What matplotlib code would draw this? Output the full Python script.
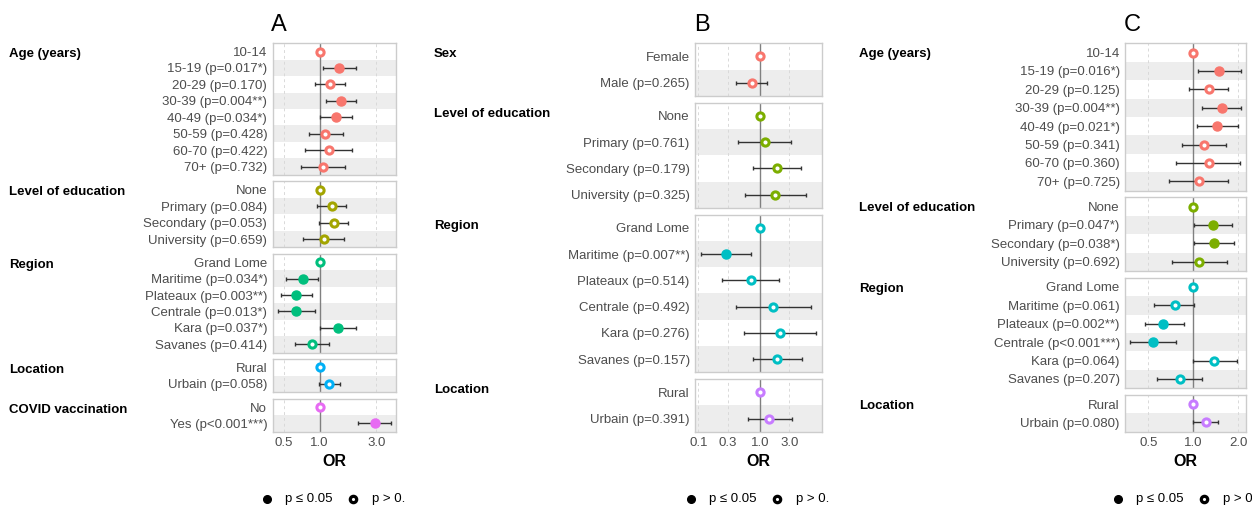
import numpy as np
import matplotlib
matplotlib.use("Agg")
import matplotlib.pyplot as plt
from matplotlib.lines import Line2D
from matplotlib.ticker import NullLocator

plt.rcParams['font.family'] = ['Liberation Sans', 'DejaVu Sans']

nan = np.nan

# ---------------- Panel A ----------------
a_age_labels = ["10-14", "15-19 (p=0.017*)", "20-29 (p=0.170)", "30-39 (p=0.004**)",
                "40-49 (p=0.034*)", "50-59 (p=0.428)", "60-70 (p=0.422)", "70+ (p=0.732)"]
a_age_or = [1.0, 1.47, 1.22, 1.51, 1.37, 1.12, 1.20, 1.06]
a_age_lo = [nan, 1.06, 0.91, 1.13, 1.00, 0.82, 0.75, 0.70]
a_age_hi = [nan, 2.04, 1.63, 2.04, 1.87, 1.57, 1.87, 1.63]

a_edu_labels = ["None", "Primary (p=0.084)", "Secondary (p=0.053)", "University (p=0.659)"]
a_edu_or = [1.0, 1.26, 1.32, 1.08]
a_edu_lo = [nan, 0.96, 0.99, 0.73]
a_edu_hi = [nan, 1.67, 1.74, 1.60]

a_reg_labels = ["Grand Lome", "Maritime (p=0.034*)", "Plateaux (p=0.003**)",
                "Centrale (p=0.013*)", "Kara (p=0.037*)", "Savanes (p=0.414)"]
a_reg_or = [1.0, 0.72, 0.63, 0.64, 1.42, 0.86]
a_reg_lo = [nan, 0.52, 0.475, 0.45, 1.00, 0.62]
a_reg_hi = [nan, 0.975, 0.86, 0.91, 2.01, 1.20]

a_loc_labels = ["Rural", "Urbain (p=0.058)"]
a_loc_or = [1.0, 1.20]
a_loc_lo = [nan, 0.99]
a_loc_hi = [nan, 1.48]

a_vac_labels = ["No", "Yes (p<0.001***)"]
a_vac_or = [1.0, 2.90]
a_vac_lo = [nan, 2.10]
a_vac_hi = [nan, 4.00]

# ---------------- Panel B ----------------
b_sex_labels = ["Female", "Male (p=0.265)"]
b_sex_or = [1.0, 0.73]
b_sex_lo = [nan, 0.41]
b_sex_hi = [nan, 1.31]

b_edu_labels = ["None", "Primary (p=0.761)", "Secondary (p=0.179)", "University (p=0.325)"]
b_edu_or = [1.0, 1.19, 1.86, 1.77]
b_edu_lo = [nan, 0.44, 0.76, 0.58]
b_edu_hi = [nan, 3.15, 4.60, 5.50]

b_reg_labels = ["Grand Lome", "Maritime (p=0.007**)", "Plateaux (p=0.514)",
                "Centrale (p=0.492)", "Kara (p=0.276)", "Savanes (p=0.157)"]
b_reg_or = [1.0, 0.28, 0.71, 1.65, 2.11, 1.91]
b_reg_lo = [nan, 0.109, 0.245, 0.40, 0.55, 0.78]
b_reg_hi = [nan, 0.71, 2.03, 6.70, 8.00, 4.75]

b_loc_labels = ["Rural", "Urbain (p=0.391)"]
b_loc_or = [1.0, 1.42]
b_loc_lo = [nan, 0.63]
b_loc_hi = [nan, 3.27]

# ---------------- Panel C ----------------
c_age_labels = ["10-14", "15-19 (p=0.016*)", "20-29 (p=0.125)", "30-39 (p=0.004**)",
                "40-49 (p=0.021*)", "50-59 (p=0.341)", "60-70 (p=0.360)", "70+ (p=0.725)"]
c_age_or = [1.0, 1.49, 1.27, 1.55, 1.44, 1.18, 1.27, 1.09]
c_age_lo = [nan, 1.08, 0.94, 1.15, 1.06, 0.84, 0.77, 0.69]
c_age_hi = [nan, 2.09, 1.71, 2.07, 1.98, 1.65, 2.05, 1.71]

c_edu_labels = ["None", "Primary (p=0.047*)", "Secondary (p=0.038*)", "University (p=0.692)"]
c_edu_or = [1.0, 1.36, 1.38, 1.09]
c_edu_lo = [nan, 1.01, 1.01, 0.72]
c_edu_hi = [nan, 1.82, 1.87, 1.67]

c_reg_labels = ["Grand Lome", "Maritime (p=0.061)", "Plateaux (p=0.002**)",
                "Centrale (p<0.001***)", "Kara (p=0.064)", "Savanes (p=0.207)"]
c_reg_or = [1.0, 0.75, 0.63, 0.535, 1.38, 0.81]
c_reg_lo = [nan, 0.55, 0.475, 0.38, 0.99, 0.57]
c_reg_hi = [nan, 1.015, 0.86, 0.77, 1.95, 1.14]

c_loc_labels = ["Rural", "Urbain (p=0.080)"]
c_loc_or = [1.0, 1.21]
c_loc_lo = [nan, 0.99]
c_loc_hi = [nan, 1.47]

colors5 = ["#F8766D", "#A3A500", "#00BF7D", "#00B0F6", "#E76BF3"]
colors4 = ["#F8766D", "#7CAE00", "#00BFC4", "#C77CFF"]

W, H = 1252, 508
fig = plt.figure(figsize=(W / 100, H / 100), dpi=100)

TOP, BOTTOM, GAP = 43.3, 431.7, 6.7
TXT = '#4d4d4d'
FS = 9.5


def add_box(x0, x1, top, bottom):
    return fig.add_axes([x0 / W, 1 - bottom / H, (x1 - x0) / W, (bottom - top) / H])


def draw_panel(groups, colors, x0, x1, xlim, ticks, label_x, title, title_x, leg_x):
    nrows = sum(len(g[1]) for g in groups)
    rh = (BOTTOM - TOP - GAP * (len(groups) - 1)) / nrows
    y = TOP
    for k, (gname, labels, orv, lo, hi) in enumerate(groups):
        n = len(labels)
        ax = add_box(x0, x1, y, y + n * rh)
        col = colors[k]
        for i in range(n):
            if i % 2 == 1:
                ax.axhspan(i - 0.5, i + 0.5, color='#ededed', lw=0, zorder=0)
        for t in ticks:
            if t != 1:
                ax.axvline(t, color='#d9d9d9', lw=0.7, ls=(0, (3, 3)), zorder=1)
        ax.axvline(1, color='#808080', lw=1, zorder=2)
        for i in range(n):
            if not np.isnan(lo[i]):
                ax.errorbar(orv[i], i, xerr=[[orv[i] - lo[i]], [hi[i] - orv[i]]],
                            fmt='none', ecolor='#333333', elinewidth=1.0,
                            capsize=1.5, capthick=1.0, zorder=3)
            if '*' in labels[i]:
                ax.plot(orv[i], i, 'o', ms=6.5, color=col, mec=col, zorder=4)
            else:
                ax.plot(orv[i], i, 'o', ms=5.2, mfc='white', mec=col, mew=2.2, zorder=4)
        ax.set_xscale('log')
        ax.set_xlim(xlim)
        ax.set_ylim(n - 0.5, -0.5)
        ax.set_yticks(range(n))
        ax.set_yticklabels(labels, fontsize=FS, color=TXT)
        ax.set_xticks(ticks)
        ax.xaxis.set_minor_locator(NullLocator())
        ax.set_xticklabels(['%.1f' % t for t in ticks], fontsize=FS, color=TXT)
        ax.tick_params(length=0, pad=4)
        if k < len(groups) - 1:
            ax.tick_params(axis='x', labelbottom=False)
        for s in ax.spines.values():
            s.set_color('#cccccc')
            s.set_linewidth(1)
        fig.text(label_x / W, 1 - (y + 11) / H, gname, fontsize=FS,
                 fontweight='bold', ha='left', va='center')
        y += n * rh + GAP
    fig.text((x0 + x1) / 2 / W, 1 - 461 / H, 'OR', fontsize=11.5,
             fontweight='bold', ha='center', va='center')
    fig.text(title_x / W, 1 - 24.7 / H, title, fontsize=17, ha='center', va='center')
    # significance legend
    ly = 1 - 499 / H
    fig.add_artist(Line2D([leg_x / W], [ly], marker='o', ms=5.5, color='black',
                          transform=fig.transFigure))
    fig.text((leg_x + 18) / W, ly, 'p ≤ 0.05', fontsize=FS, ha='left', va='center')
    fig.add_artist(Line2D([(leg_x + 86) / W], [ly], marker='o', ms=4.6, mfc='white',
                          mec='black', mew=2.3, transform=fig.transFigure))
    fig.text((leg_x + 105) / W, ly, 'p > 0.' if title != 'C' else 'p > 0',
             fontsize=FS, ha='left', va='center')


groups_a = [
    ("Age (years)", a_age_labels, a_age_or, a_age_lo, a_age_hi),
    ("Level of education", a_edu_labels, a_edu_or, a_edu_lo, a_edu_hi),
    ("Region", a_reg_labels, a_reg_or, a_reg_lo, a_reg_hi),
    ("Location", a_loc_labels, a_loc_or, a_loc_lo, a_loc_hi),
    ("COVID vaccination", a_vac_labels, a_vac_or, a_vac_lo, a_vac_hi),
]
groups_b = [
    ("Sex", b_sex_labels, b_sex_or, b_sex_lo, b_sex_hi),
    ("Level of education", b_edu_labels, b_edu_or, b_edu_lo, b_edu_hi),
    ("Region", b_reg_labels, b_reg_or, b_reg_lo, b_reg_hi),
    ("Location", b_loc_labels, b_loc_or, b_loc_lo, b_loc_hi),
]
groups_c = [
    ("Age (years)", c_age_labels, c_age_or, c_age_lo, c_age_hi),
    ("Level of education", c_edu_labels, c_edu_or, c_edu_lo, c_edu_hi),
    ("Region", c_reg_labels, c_reg_or, c_reg_lo, c_reg_hi),
    ("Location", c_loc_labels, c_loc_or, c_loc_lo, c_loc_hi),
]

draw_panel(groups_a, colors5, 272.7, 396.3, (0.405, 4.4), [0.5, 1, 3], 9, 'A', 279, 266.7)
draw_panel(groups_b, colors4, 695.3, 821.7, (0.089, 10.0), [0.1, 0.3, 1, 3], 434, 'B', 701.7, 691)
draw_panel(groups_c, colors4, 1125.3, 1246.3, (0.351, 2.26), [0.5, 1, 2], 859, 'C', 1132.7, 1117.7)

fig.savefig('out.png', dpi=100)
